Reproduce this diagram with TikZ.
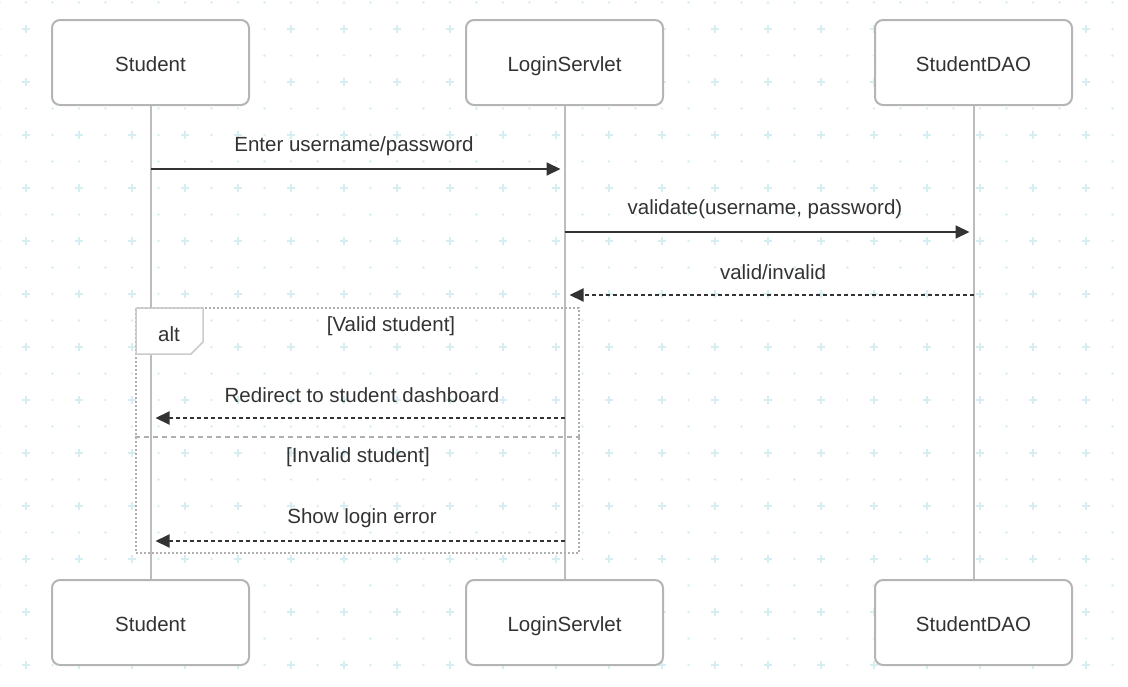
\documentclass[tikz,border=0pt]{standalone}
\usepackage{fontspec}
\setmainfont{Liberation Sans}
\usetikzlibrary{arrows.meta}
\definecolor{gridcyan}{HTML}{D6EEF1}
\definecolor{boxgrey}{HTML}{B5B5B5}
\definecolor{lifegrey}{HTML}{BDBDBD}
\definecolor{framegrey}{HTML}{AFAFAF}
\definecolor{inkdark}{HTML}{333333}

\begin{document}
\begin{tikzpicture}[x=1pt,y=-1pt,
    every node/.style={font=\fontsize{20.5}{24}\selectfont, text=inkdark},
    actor/.style={draw=boxgrey, line width=2pt, rounded corners=8pt, fill=white, minimum width=197pt, minimum height=85pt, inner sep=0pt, text depth=0pt, text height=17.5pt},
    lifeline/.style={draw=lifegrey, line width=2pt},
    msg/.style={draw=inkdark, line width=2pt, -{Triangle[length=14pt,width=13pt]}},
    reply/.style={msg, dash pattern=on 4pt off 3pt},
    guard/.style={draw=none, fill=none}
]
\useasboundingbox (0,0) rectangle (1128,686);

% ---- background grid ----
\foreach \i [evaluate=\i as \gx using -0.5+26.5*\i] in {0,...,42}{
  \foreach \k [evaluate=\k as \gy using 2.5+26.5*\k] in {0,...,25}{
    \ifodd\i \ifodd\k
      \draw[gridcyan, line width=1.8pt] (\gx-4,\gy) -- (\gx+4,\gy) (\gx,\gy-4) -- (\gx,\gy+4);
    \else
      \fill[gridcyan] (\gx,\gy) circle (1.3pt);
    \fi \else
      \fill[gridcyan] (\gx,\gy) circle (1.3pt);
    \fi
  }
}

% ---- participants ----
\node[actor] (stuTop) at (150.5,62.5) {Student};
\node[actor] (srvTop) at (564.5,62.5) {LoginServlet};
\node[actor] (daoTop) at (973.5,62.5) {StudentDAO};
\node[actor] (stuBot) at (150.5,622.5) {Student};
\node[actor] (srvBot) at (564.5,622.5) {LoginServlet};
\node[actor] (daoBot) at (973.5,622.5) {StudentDAO};
\draw[lifeline] (stuTop.south) -- (stuBot.north);
\draw[lifeline] (srvTop.south) -- (srvBot.north);
\draw[lifeline] (daoTop.south) -- (daoBot.north);

% ---- messages ----
\coordinate (m1a) at (stuTop.south |- 0,169);
\coordinate (m1b) at (srvTop.south |- 0,169);
\draw[msg, shorten >=4pt] (m1a) -- (m1b);
\node (m1lbl) at (354,146.5) {Enter username/password};

\coordinate (m2a) at (srvTop.south |- 0,232);
\coordinate (m2b) at (daoTop.south |- 0,232);
\draw[msg, shorten >=4pt] (m2a) -- (m2b);
\node (m2lbl) at (765,209.5) {validate(username, password)};

\coordinate (m3a) at (daoTop.south |- 0,295);
\coordinate (m3b) at (srvTop.south |- 0,295);
\draw[reply, shorten >=5pt] (m3a) -- (m3b);
\node (m3lbl) at (773,272.5) {valid/invalid};

% ---- alt fragment ----
\node[draw=framegrey, line width=2pt, dash pattern=on 2pt off 2pt, minimum width=443pt, minimum height=245pt, inner sep=0pt] (altFrame) at (357.5,430.5) {};
\draw[draw=boxgrey!70, line width=1.5pt, fill=white] (136,308) -- (203,308) -- (203,342) -- (191,354) -- (136,354) -- cycle;
\node (altTag) at (169,334.5) {alt};
\node[guard] (g1) at (391,326.5) {[Valid student]};
\draw[framegrey, line width=2pt, dash pattern=on 5pt off 4pt] (altFrame.west |- 0,437) -- (altFrame.east |- 0,437);
\node[guard] (g2) at (358,457.5) {[Invalid student]};

\coordinate (m4a) at (srvTop.south |- 0,418);
\coordinate (m4b) at (stuTop.south |- 0,418);
\draw[reply, shorten >=5pt] (m4a) -- (m4b);
\node (m4lbl) at (362,395.5) {Redirect to student dashboard};

\coordinate (m5a) at (srvTop.south |- 0,541);
\coordinate (m5b) at (stuTop.south |- 0,541);
\draw[reply, shorten >=5pt] (m5a) -- (m5b);
\node (m5lbl) at (362,518.5) {Show login error};
\end{tikzpicture}
\end{document}
